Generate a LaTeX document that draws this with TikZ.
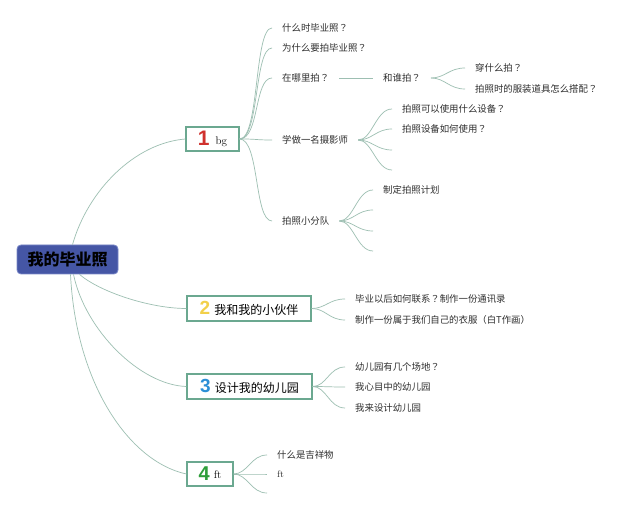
\documentclass[tikz,border=0pt]{standalone}
\usepackage{fontspec}
\newfontfamily\cjk{Noto Sans CJK SC}
\newfontfamily\cjkq{Noto Sans CJK JP}
\newcommand{\qmk}{{\cjkq ？}}
\newfontfamily\numfont{Liberation Sans}
\definecolor{linkc}{HTML}{9DBFB2}
\definecolor{boxc}{HTML}{6BA890}
\definecolor{rootfill}{HTML}{4556A5}
\definecolor{rootdraw}{HTML}{7A88C8}
\definecolor{leaftext}{HTML}{2E2E2E}
\definecolor{cA}{HTML}{D0312D}
\definecolor{cB}{HTML}{F2D04A}
\definecolor{cC}{HTML}{2C8FD6}
\definecolor{cD}{HTML}{2E9E3A}
\begin{document}
\begin{tikzpicture}[x=1pt,y=-1pt,
  link/.style={draw=linkc, line width=0.7pt},
  topic/.style={draw=boxc, line width=1.1pt, fill=white, inner sep=0pt, anchor=center},
  leaf/.style={anchor=west, inner xsep=10pt, inner ysep=1pt, text=leaftext, font=\cjk\fontsize{9.4}{10}\selectfont}
]
\useasboundingbox (0,0) rectangle (640,510);
\fill[white] (0,0) rectangle (640,510);

% root
\node[draw=rootdraw, fill=rootfill, line width=0.8pt, rounded corners=4pt, minimum width=101pt, minimum height=29pt, inner sep=0pt, font=\cjk\bfseries\fontsize{16}{16}\selectfont] (root) at (67.5,259.5) {我的毕业照};

% topics
\node[topic, minimum width=53pt, minimum height=24pt] (t1) at (212.5,139) {{\numfont\bfseries\fontsize{21}{21}\selectfont\color{cA}1}\hspace{6pt}\raisebox{1pt}{\fontsize{11}{11}\selectfont bg}};
\node[topic, minimum width=124pt, minimum height=25pt] (t2) at (249,308.5) {{\numfont\bfseries\fontsize{19}{19}\selectfont\color{cB}2}\hspace{4pt}{\cjk\fontsize{12}{12}\selectfont 我和我的小伙伴}};
\node[topic, minimum width=125pt, minimum height=25pt] (t3) at (249.5,386.5) {{\numfont\bfseries\fontsize{19}{19}\selectfont\color{cC}3}\hspace{4pt}{\cjk\fontsize{12}{12}\selectfont 设计我的幼儿园}};
\node[topic, minimum width=46pt, minimum height=24pt] (t4) at (210,474) {{\numfont\bfseries\fontsize{20}{20}\selectfont\color{cD}4}\hspace{4pt}\raisebox{2pt}{\fontsize{11}{11}\selectfont ft}};

% root connectors
\coordinate (r1) at ([xshift=5pt]root.north);
\coordinate (r2) at ([xshift=12pt]root.south);
\coordinate (r3) at ([xshift=6pt]root.south);
\coordinate (r4) at ([xshift=3pt]root.south);
\draw[link] (r1) .. controls (88,190) and (135,143) .. (t1.west);
\draw[link] (r2) .. controls (100,292) and (150,308.5) .. (t2.west);
\draw[link] (r3) .. controls (85,330) and (140,385) .. (t3.west);
\draw[link] (r4) .. controls (76,385) and (130,462) .. (t4.west);

% branch 1 children
\node[leaf] (a1) at (272,28) {什么时毕业照\qmk};
\node[leaf] (a2) at (272,48) {为什么要拍毕业照\qmk};
\node[leaf] (a3) at (272,78) {在哪里拍\qmk};
\node[leaf] (a4) at (272,140) {学做一名摄影师};
\node[leaf] (a5) at (272,221) {拍照小分队};
\foreach \n in {a1,a2,a3,a4,a5}{
  \draw[link] (t1.east) .. controls ++(20,0) and ([xshift=-18pt]\n.west) .. (\n.west);
}
\node[leaf] (b1) at (373,78) {和谁拍\qmk};
\draw[link] (a3.east) -- (b1.west);
\node[leaf] (c1) at (465,68) {穿什么拍\qmk};
\node[leaf] (c2) at (465,89) {拍照时的服装道具怎么搭配\qmk};
\foreach \n in {c1,c2}{
  \draw[link] (b1.east) .. controls ++(14,0) and ([xshift=-16pt]\n.west) .. (\n.west);
}
\node[leaf] (d1) at (392,109) {拍照可以使用什么设备\qmk};
\node[leaf] (d2) at (392,129) {拍照设备如何使用\qmk};
\coordinate (d3) at (392,150);
\coordinate (d4) at (392,170);
\draw[link] (a4.east) .. controls ++(14,0) and ([xshift=-16pt]d1.west) .. (d1.west);
\draw[link] (a4.east) .. controls ++(14,0) and ([xshift=-16pt]d2.west) .. (d2.west);
\draw[link] (a4.east) .. controls ++(14,0) and ([xshift=-16pt]d3) .. (d3);
\draw[link] (a4.east) .. controls ++(14,0) and ([xshift=-16pt]d4) .. (d4);
\node[leaf] (e1) at (373,190) {制定拍照计划};
\coordinate (e2) at (373,210);
\coordinate (e3) at (373,231);
\coordinate (e4) at (373,251);
\draw[link] (a5.east) .. controls ++(14,0) and ([xshift=-16pt]e1.west) .. (e1.west);
\draw[link] (a5.east) .. controls ++(14,0) and ([xshift=-16pt]e2) .. (e2);
\draw[link] (a5.east) .. controls ++(14,0) and ([xshift=-16pt]e3) .. (e3);
\draw[link] (a5.east) .. controls ++(14,0) and ([xshift=-16pt]e4) .. (e4);

% branch 2
\node[leaf] (f1) at (345,299) {毕业以后如何联系\qmk 制作一份通讯录};
\node[leaf] (f2) at (345,320) {制作一份属于我们自己的衣服（白T作画）};
\foreach \n in {f1,f2}{
  \draw[link] (t2.east) .. controls ++(14,0) and ([xshift=-16pt]\n.west) .. (\n.west);
}

% branch 3
\node[leaf] (g1) at (345,367) {幼儿园有几个场地\qmk};
\node[leaf] (g2) at (345,387) {我心目中的幼儿园};
\node[leaf] (g3) at (345,408) {我来设计幼儿园};
\foreach \n in {g1,g2,g3}{
  \draw[link] (t3.east) .. controls ++(14,0) and ([xshift=-16pt]\n.west) .. (\n.west);
}

% branch 4
\node[leaf] (h1) at (267,455) {什么是吉祥物};
\node[leaf, font=\fontsize{9.4}{10}\selectfont] (h2) at (267,474) {ft};
\coordinate (h3) at (267,493);
\draw[link] (t4.east) .. controls ++(14,0) and ([xshift=-16pt]h1.west) .. (h1.west);
\draw[link] (t4.east) .. controls ++(14,0) and ([xshift=-16pt]h2.west) .. (h2.west);
\draw[link] (t4.east) .. controls ++(14,0) and ([xshift=-16pt]h3) .. (h3);
\end{tikzpicture}
\end{document}
